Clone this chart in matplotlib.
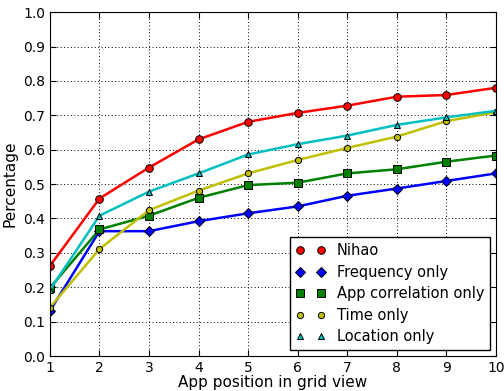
import matplotlib
matplotlib.use('Agg')
import matplotlib.pyplot as plt
from matplotlib.lines import Line2D

positions = [1, 2, 3, 4, 5, 6, 7, 8, 9, 10]

nihao = [0.262, 0.458, 0.548, 0.630, 0.681, 0.707, 0.728, 0.754, 0.759, 0.780]
frequency = [0.131, 0.363, 0.363, 0.392, 0.415, 0.435, 0.466, 0.487, 0.509, 0.531]
app_corr = [0.198, 0.368, 0.408, 0.460, 0.497, 0.504, 0.531, 0.543, 0.565, 0.583]
time_only = [0.141, 0.311, 0.424, 0.481, 0.531, 0.570, 0.605, 0.638, 0.683, 0.709]
location = [0.192, 0.408, 0.478, 0.531, 0.586, 0.616, 0.641, 0.672, 0.694, 0.713]

series = [
    ('Nihao', nihao, 'red', 'o', 5.5),
    ('Frequency only', frequency, 'blue', 'D', 5.5),
    ('App correlation only', app_corr, 'green', 's', 5.5),
    ('Time only', time_only, 'y', 'o', 4.5),
    ('Location only', location, 'c', '^', 4.5),
]

fig = plt.figure(figsize=(5.04, 3.91), dpi=100)
ax = fig.add_axes([0.099, 0.0895, 0.885, 0.8795])

handles = []
for name, vals, col, mk, ms in series:
    ax.plot(positions, vals, color=col, marker=mk, markersize=ms,
            markeredgecolor='black', markeredgewidth=0.7, linewidth=1.8)
    handles.append(Line2D([], [], linestyle='none', color=col, marker=mk,
                          markersize=ms, markeredgecolor='black',
                          markeredgewidth=0.7, label=name))

ax.set_xlim(1, 10)
ax.set_ylim(0, 1)
ax.set_xticks(positions)
ax.set_yticks([i / 10 for i in range(11)])
ax.set_yticklabels(['%.1f' % (i / 10) for i in range(11)])
ax.tick_params(direction='in', labelsize=10, top=True, right=True, length=4)
ax.grid(True, color='black', linestyle=(0, (1, 2.5)), linewidth=0.7)
ax.set_xlabel('App position in grid view', fontsize=11, labelpad=0)
ax.set_ylabel('Percentage', fontsize=11)

leg = ax.legend(handles=handles, loc='lower right', numpoints=2, fontsize=10.5,
                fancybox=False, framealpha=1, edgecolor='black',
                borderaxespad=0.4, handlelength=2, labelspacing=0.45)
leg.get_frame().set_linewidth(1)

fig.savefig('out.png', dpi=100)
